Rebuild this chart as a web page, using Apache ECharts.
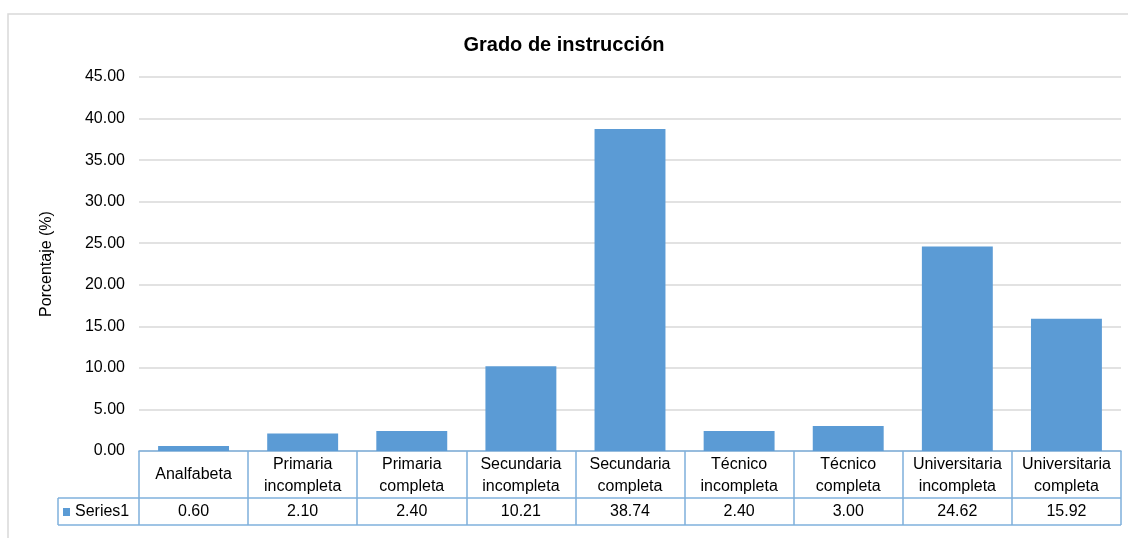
<!DOCTYPE html>
<html>
<head>
<meta charset="utf-8">
<script src="https://cdn.jsdelivr.net/npm/echarts@6/dist/echarts.min.js"></script>
<style>
  html, body { margin: 0; padding: 0; background: #fff; }
  #main { width: 1128px; height: 538px; }
</style>
</head>
<body>
<div id="main"></div>
<script>
const categories = [
  "Analfabeta",
  "Primaria\nincompleta",
  "Primaria\ncompleta",
  "Secundaria\nincompleta",
  "Secundaria\ncompleta",
  "Técnico\nincompleta",
  "Técnico\ncompleta",
  "Universitaria\nincompleta",
  "Universitaria\ncompleta"
];
const series1 = [0.60, 2.10, 2.40, 10.21, 38.74, 2.40, 3.00, 24.62, 15.92];
const yTicks = { min: 0, max: 45, interval: 5 };

const FONT = "Liberation Sans, Arial, sans-serif";
const BLUE = "#5b9bd5";
const TABLE_LINE = "#7fb0dc";
const TXT = "#000";

// plot area in px
const G = { left: 139, right: 7, top: 77, bottom: 87 };
const W = 1128, H = 538;
const plotRight = W - G.right;
const axisY = H - G.bottom;
const row2Top = axisY + 47;
const row2Bottom = row2Top + 27;

let chartDom = document.getElementById("main");
let myChart = echarts.init(chartDom);
let option;
option = {
  animation: false,
  textStyle: { fontFamily: FONT },
  title: {
    text: "Grado de instrucción",
    left: "center",
    top: 30,
    textStyle: { fontFamily: FONT, fontSize: 20, fontWeight: "bold", color: TXT }
  },
  legend: {
    data: ["Series1"],
    left: 63,
    top: row2Top + 6,
    padding: 0,
    icon: "rect",
    itemWidth: 7,
    itemHeight: 8,
    textStyle: { fontFamily: FONT, fontSize: 16, color: TXT }
  },
  grid: { left: G.left, right: G.right, top: G.top, bottom: G.bottom },
  xAxis: {
    type: "category",
    data: categories,
    boundaryGap: true,
    axisLine: { show: true, lineStyle: { color: TABLE_LINE, width: 1.5 } },
    axisTick: { show: true, length: 74, lineStyle: { color: TABLE_LINE, width: 1.5 } },
    axisLabel: {
      interval: 0,
      margin: 0,
      verticalAlign: "top",
      formatter: function (value, idx) {
        const parts = value.split("\n");
        const val = series1[idx].toFixed(2);
        if (parts.length === 1) {
          return "{c1|" + parts[0] + "}\n{v|" + val + "}";
        }
        return "{c2a|" + parts[0] + "}\n{c2b|" + parts[1] + "}\n{v2|" + val + "}";
      },
      rich: {
        c1: { fontFamily: FONT, fontSize: 16, color: TXT, lineHeight: 47 },
        c2a: { fontFamily: FONT, fontSize: 16, color: TXT, lineHeight: 28 },
        c2b: { fontFamily: FONT, fontSize: 16, color: TXT, lineHeight: 16 },
        v: { fontFamily: FONT, fontSize: 16, color: TXT, lineHeight: 27 },
        v2: { fontFamily: FONT, fontSize: 16, color: TXT, lineHeight: 33 }
      }
    }
  },
  yAxis: {
    type: "value",
    min: yTicks.min,
    max: yTicks.max,
    interval: yTicks.interval,
    name: "Porcentaje (%)",
    nameLocation: "middle",
    nameGap: 84,
    nameTextStyle: { fontFamily: FONT, fontSize: 16, color: TXT },
    axisLine: { show: false },
    axisTick: { show: false },
    axisLabel: {
      margin: 14,
      fontFamily: FONT,
      fontSize: 16,
      color: TXT,
      formatter: v => v.toFixed(2)
    },
    splitLine: { lineStyle: { color: "#d9d9d9", width: 1.5 } }
  },
  series: [
    {
      name: "Series1",
      type: "bar",
      data: series1,
      barCategoryGap: "35%",
      itemStyle: { color: BLUE }
    }
  ],
  graphic: [
    {
      type: "rect",
      silent: true,
      z: -10,
      shape: { x: 8, y: 14, width: 1140, height: 540 },
      style: { fill: "none", stroke: "#d9d9d9", lineWidth: 1.5 }
    },
    {
      type: "line",
      silent: true,
      shape: { x1: 58, y1: row2Top, x2: plotRight, y2: row2Top },
      style: { stroke: TABLE_LINE, lineWidth: 1.5 }
    },
    {
      type: "line",
      silent: true,
      shape: { x1: 58, y1: row2Bottom, x2: plotRight, y2: row2Bottom },
      style: { stroke: TABLE_LINE, lineWidth: 1.5 }
    },
    {
      type: "line",
      silent: true,
      shape: { x1: 58, y1: row2Top, x2: 58, y2: row2Bottom },
      style: { stroke: TABLE_LINE, lineWidth: 1.5 }
    }
  ]
};
myChart.setOption(option);
</script>
</body>
</html>
